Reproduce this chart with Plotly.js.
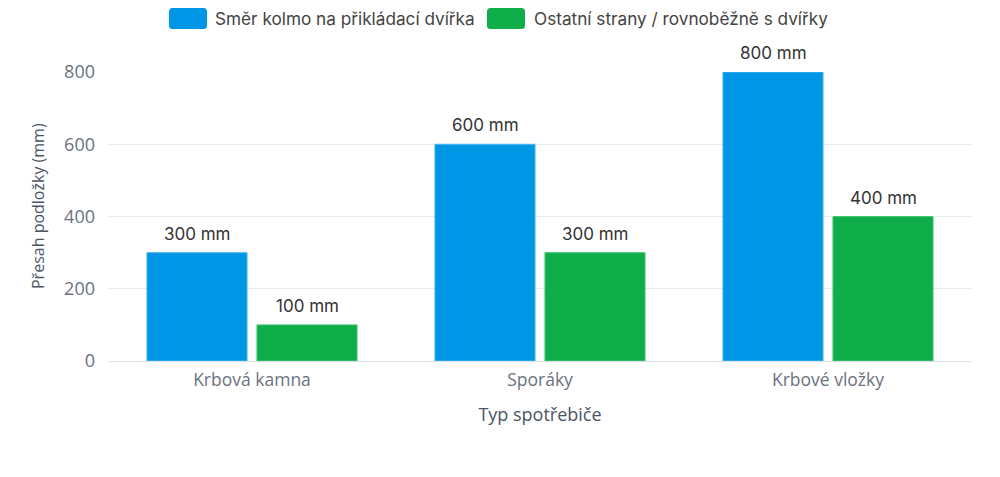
<!DOCTYPE html>
<html>
<head>
<meta charset="utf-8">
<script src="https://cdn.plot.ly/plotly-3.0.1.min.js"></script>
<style>html,body{margin:0;padding:0;background:#fff;}#chart{width:1000px;height:477px;}</style>
</head>
<body>
<div id="chart"></div>
<script>
const categories = ["Krbová kamna", "Sporáky", "Krbové vložky"];
const seriesNames = ["Směr kolmo na přikládací dvířka", "Ostatní strany / rovnoběžně s dvířky"];
const perpendicular = [300, 600, 800];
const otherSides = [100, 300, 400];
const yTicks = [0, 200, 400, 600, 800];
const unit = " mm";
const xTitle = "Typ spotřebiče";
const yTitle = "Přesah podložky (mm)";

const colors = ["#0096E6", "#10AD4B"];
const borders = ["#4FB6EE", "#4CC477"];
const seriesValues = [perpendicular, otherSides];

const W = 1000, H = 477;
const M = {l: 108, r: 28, t: 72, b: 116};
const PW = W - M.l - M.r, PH = H - M.t - M.b;
const px2x = p => (p - M.l) / PW;
const py2y = p => (H - M.b - p) / PH;

const traces = seriesValues.map((vals, i) => ({
  type: "bar",
  name: seriesNames[i],
  x: categories,
  y: vals,
  marker: {color: colors[i], line: {color: borders[i], width: 1}},
  hoverinfo: "none",
  showlegend: false
}));

// value labels above bars (positioned by data via axes)
const barOffsets = [-55, 55];
const annotations = [];
seriesValues.forEach((vals, i) => {
  vals.forEach((v, j) => {
    annotations.push({
      xref: "x", yref: "y", x: categories[j], y: v,
      xshift: barOffsets[i], yshift: 7,
      text: v + unit, showarrow: false, yanchor: "bottom", xanchor: "center",
      font: {family: "Inter, sans-serif", size: 17, color: "#333333"}
    });
  });
});

// y axis title
annotations.push({
  xref: "paper", yref: "paper", x: px2x(38), y: py2y(206),
  xanchor: "center", yanchor: "middle", textangle: -90, showarrow: false,
  text: yTitle,
  font: {family: "Open Sans, sans-serif", size: 16, color: "#4B5563"}
});

// custom legend (swatches + labels)
const legendItems = [
  {swatchCx: 188, textX: 213},
  {swatchCx: 506, textX: 532}
];
const legendCy = 18.5;
const shapes = [];
const rr = (w, h, r) => {
  const x0 = -w/2, x1 = w/2, y0 = -h/2, y1 = h/2;
  return `M ${x0+r} ${y0} L ${x1-r} ${y0} Q ${x1} ${y0} ${x1} ${y0+r} L ${x1} ${y1-r} Q ${x1} ${y1} ${x1-r} ${y1} L ${x0+r} ${y1} Q ${x0} ${y1} ${x0} ${y1-r} L ${x0} ${y0+r} Q ${x0} ${y0} ${x0+r} ${y0} Z`;
};
legendItems.forEach((it, i) => {
  shapes.push({
    type: "path", xref: "paper", yref: "paper",
    xsizemode: "pixel", ysizemode: "pixel",
    xanchor: px2x(it.swatchCx), yanchor: py2y(legendCy),
    path: rr(38, 21, 3.5),
    fillcolor: colors[i], line: {width: 0}
  });
  annotations.push({
    xref: "paper", yref: "paper", x: px2x(it.textX), y: py2y(legendCy),
    xanchor: "left", yanchor: "middle", showarrow: false,
    text: seriesNames[i],
    font: {family: "Inter, sans-serif", size: 17.2, color: "#444444"}
  });
});

const layout = {
  width: W, height: H,
  margin: M,
  paper_bgcolor: "#ffffff", plot_bgcolor: "#ffffff",
  barmode: "group",
  bargap: 0.236,
  bargroupgap: 0.09,
  showlegend: false,
  xaxis: {
    type: "category",
    tickfont: {family: "Open Sans, sans-serif", size: 17.5, color: "#6B7280"},
    ticklabelstandoff: 6,
    title: {text: xTitle, font: {family: "Open Sans, sans-serif", size: 18, color: "#4B5563"}, standoff: 18},
    showline: false, ticks: "", showgrid: false, zeroline: false
  },
  yaxis: {
    range: [0, 800],
    tickvals: yTicks,
    tickfont: {family: "Open Sans, sans-serif", size: 18, color: "#6B7280"},
    ticklabelstandoff: 12,
    gridcolor: "#E8ECF0", gridwidth: 1,
    zeroline: true, zerolinecolor: "#DDE2E8", zerolinewidth: 1,
    ticks: "", showline: false
  },
  annotations: annotations,
  shapes: shapes
};

Plotly.newPlot("chart", traces, layout, {displayModeBar: false, staticPlot: true});
</script>
</body>
</html>
